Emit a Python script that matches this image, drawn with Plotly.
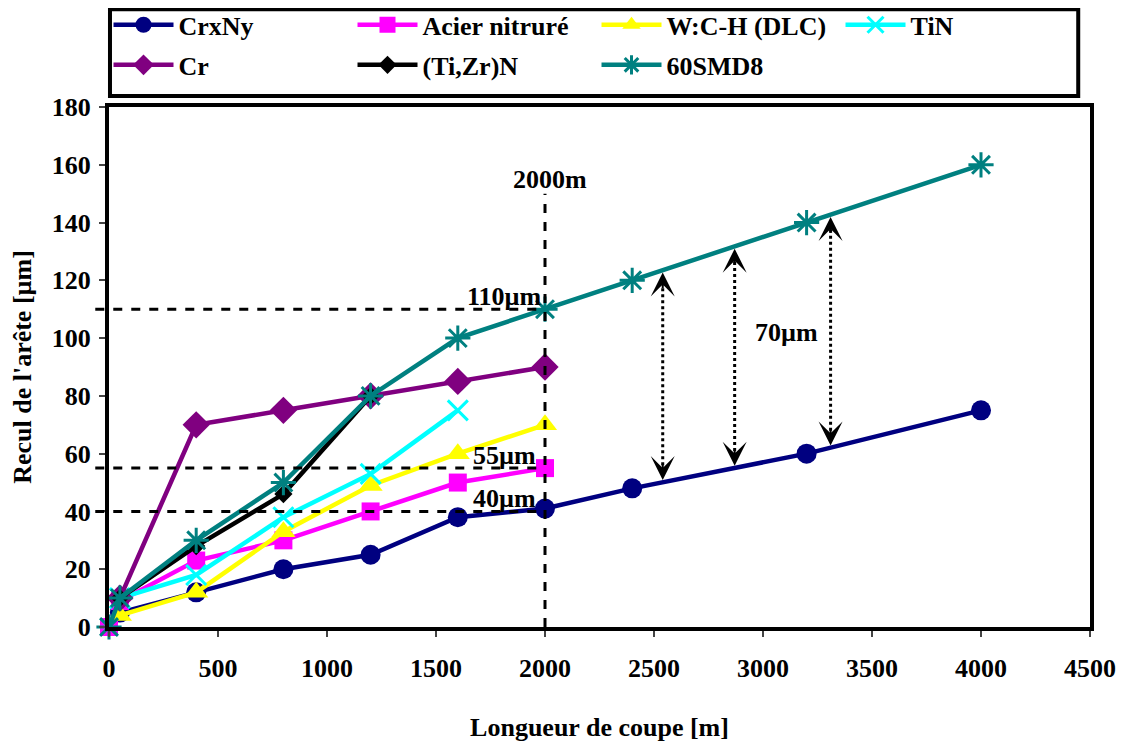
import numpy as np
import plotly.graph_objects as go

# ---- data ----
x_crxny = [50, 400, 800, 1200, 1600, 2000, 2400, 3200, 4000]
y_crxny = [5, 12, 20, 25, 38, 41, 48, 60, 75]
x_acier = [0, 50, 400, 800, 1200, 1600, 2000]
y_acier = [0, 9, 23, 30, 40, 50, 55]
x_dlc = [50, 400, 800, 1200, 1600, 2000]
y_dlc = [4, 12, 33, 49, 60, 70]
x_tin = [50, 400, 800, 1200, 1600]
y_tin = [10, 18, 38, 53, 75]
x_cr = [50, 400, 800, 1200, 1600, 2000]
y_cr = [10, 70, 75, 80, 85, 90]
x_tizr = [50, 400, 800, 1200]
y_tizr = [10, 28, 46, 80]
x_smd = [0, 50, 400, 800, 1200, 1600, 2000, 2400, 3200, 4000]
y_smd = [0, 10, 30, 50, 80, 100, 110, 120, 140, 160]

ref_x = 2000
ref_levels = [110, 55, 40]
ref_labels = ["110µm", "55µm", "40µm"]
arrow_x = [2540, 2870, 3310]
gap_label = "70µm"

x_ticks = [0, 500, 1000, 1500, 2000, 2500, 3000, 3500, 4000, 4500]
y_ticks = [0, 20, 40, 60, 80, 100, 120, 140, 160, 180]

FONT = "Liberation Serif"
FS = 26

# name, x, y, colour, symbol, size, outline width, legend row
series = [
    ("CrxNy", x_crxny, y_crxny, "#000080", "circle", 20, None, "legend"),
    ("Acier nitruré", x_acier, y_acier, "#FF00FF", "square", 18, None, "legend"),
    ("W:C-H (DLC)", x_dlc, y_dlc, "#FFFF00", "triangle-up", 21, None, "legend"),
    ("TiN", x_tin, y_tin, "#00FFFF", "x-thin-open", 20, 3, "legend"),
    ("Cr", x_cr, y_cr, "#800080", "diamond", 21, None, "legend2"),
    ("(Ti,Zr)N", x_tizr, y_tizr, "#000000", "diamond", 14, None, "legend2"),
    ("60SMD8", x_smd, y_smd, "#008080", "asterisk-open", 21, 3, "legend2"),
]

fig = go.Figure()
for name, xs, ys, col, sym, size, lw, lg in series:
    marker = dict(symbol=sym, size=size, color=col)
    if lw:
        marker["line"] = dict(color=col, width=lw)
    fig.add_trace(go.Scatter(
        x=xs, y=ys, name=name, mode="lines+markers", legend=lg,
        line=dict(color=col, width=4.5), marker=marker, cliponaxis=False,
    ))

bold = dict(family=FONT, size=FS, color="black", weight="bold")
shapes = []
annotations = []
xmax = x_ticks[-1]
# dashed reference lines
shapes.append(dict(type="line", xref="x", yref="y", x0=ref_x, x1=ref_x, y0=0, y1=150,
                   line=dict(color="black", width=3, dash="dash")))
for lvl in ref_levels:
    shapes.append(dict(type="line", xref="paper", yref="y", x0=-0.014, x1=ref_x / xmax,
                       y0=lvl, y1=lvl, line=dict(color="black", width=3, dash="dash")))
annotations.append(dict(x=ref_x + 25, y=155, xref="x", yref="y", text="2000m", showarrow=False, font=bold))
for lvl, lab in zip(ref_levels, ref_labels):
    annotations.append(dict(x=ref_x - 185, y=lvl + 4.5, xref="x", yref="y", text=lab,
                            showarrow=False, font=bold))

# double arrows between CrxNy and 60SMD8
for ax in arrow_x:
    yt = float(np.interp(ax, x_smd, y_smd)) - 0.8
    yb = float(np.interp(ax, x_crxny, y_crxny)) + 0.8
    shapes.append(dict(type="line", xref="x", yref="y", x0=ax, x1=ax, y0=yb + 3, y1=yt - 3,
                       line=dict(color="black", width=3, dash="dot")))
    for tip, tail in ((yt, yt - 6), (yb, yb + 6)):
        annotations.append(dict(x=ax, y=tip, ax=ax, ay=tail, xref="x", yref="y", axref="x", ayref="y",
                                text="", showarrow=True, arrowhead=3, arrowsize=2.0, arrowwidth=2,
                                arrowcolor="black", standoff=0))
annotations.append(dict(x=3110, y=102, xref="x", yref="y", text=gap_label, showarrow=False, font=bold))

# legend frame
shapes.append(dict(type="rect", xref="paper", yref="paper",
                   x0=0.001, x1=0.988, y0=1.021, y1=1.188,
                   line=dict(color="black", width=4)))

legend_common = dict(orientation="h", xanchor="left", yanchor="middle",
                     entrywidth=169, itemwidth=60, bgcolor="rgba(0,0,0,0)", borderwidth=0, font=bold)

# the page body has an 8px margin: shift the figure back so the plot area sits where the reference has it
fig.update_layout(
    width=1117, height=734,
    margin=dict(l=101, r=35, t=99, b=115, autoexpand=False),
    paper_bgcolor="white", plot_bgcolor="white",
    font=bold,
    showlegend=True,
    legend=dict(x=-0.0005, y=1.158, **legend_common),
    legend2=dict(x=-0.0005, y=1.081, **legend_common),
    shapes=shapes, annotations=annotations,
)
fig.update_xaxes(range=[0, xmax], tickvals=x_ticks, showgrid=False, zeroline=False,
                 showline=True, linewidth=4, linecolor="black", mirror=True, automargin=False,
                 ticks="outside", ticklen=6, tickwidth=1.5, tickcolor="#444", ticklabelstandoff=9,
                 title=dict(text="Longueur de coupe [m]", standoff=48, font=bold),
                 tickfont=bold)
fig.update_yaxes(range=[0, 180], tickvals=y_ticks, showgrid=False, zeroline=False,
                 showline=True, linewidth=4, linecolor="black", mirror=True, automargin=False,
                 ticks="outside", ticklen=6, tickwidth=1.5, tickcolor="#444", ticklabelstandoff=3,
                 title=dict(text="Recul de l'arête [µm]", standoff=14, font=bold),
                 tickfont=bold)

fig.write_html("out.html")
